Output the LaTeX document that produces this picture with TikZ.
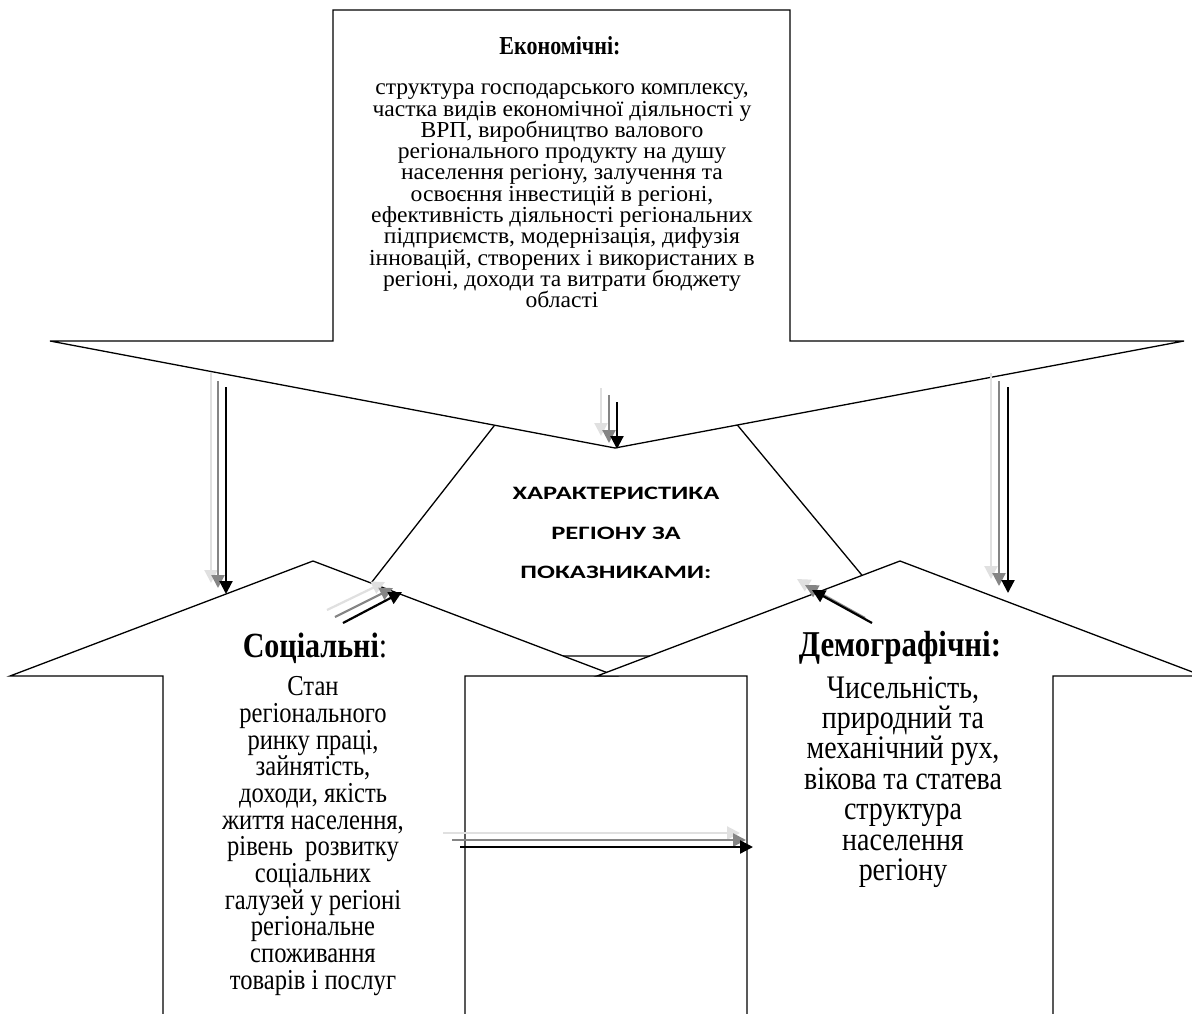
\documentclass[tikz,border=0pt]{standalone}
\usepackage{fontspec}
\setmainfont{Liberation Serif}
\newfontfamily\narrowserif[FakeStretch=0.85]{Liberation Serif}
\newfontfamily\widerserif[FakeStretch=1.03]{Liberation Serif}
\newfontfamily\calib[FakeStretch=1.4]{Carlito}
\usetikzlibrary{arrows.meta}
\newcommand\tightlines{\lineskiplimit=-100pt\lineskip=0pt\relax}
\tikzset{
  outline/.style={draw=black, fill=white, line width=1.3bp, line join=miter},
  arrL/.style={draw=black!12, line width=2.2bp, -{Triangle[length=13bp,width=13bp]}},
  arrM/.style={draw=black!48, line width=2.2bp, -{Triangle[length=13bp,width=13bp]}},
  arrK/.style={draw=black, line width=2.2bp, -{Triangle[length=13bp,width=13bp]}},
  txt/.style={align=center, inner sep=0pt}
}
\begin{document}
\begin{tikzpicture}[x=1bp,y=-1bp]
\clip (0,0) rectangle (1192,1014);
\fill[white] (0,0) rectangle (1192,1014);
% central shape (behind)
\draw[outline] (530,380) -- (700,380) -- (929,656) -- (314,656) -- cycle;
% top arrow
\draw[outline] (333,10) -- (790,10) -- (790,341) -- (1184,341) -- (615,448) -- (50,341) -- (333,341) -- cycle;
% social arrow
\draw[outline] (163,1030) -- (163,676) -- (10,676) -- (313,561) -- (616,676) -- (465,676) -- (465,1030);
% demographic arrow
\draw[outline] (747,1030) -- (747,676) -- (597,676) -- (900,561) -- (1203,676) -- (1053,676) -- (1053,1030);

% texts
\node[txt, font=\fontsize{26}{26}\selectfont\narrowserif\bfseries] (ekoTitle) at (560,46) {Економічні:};
\node[txt, font=\fontsize{23}{21.4}\selectfont\widerserif\tightlines] (ekoText) at (562,196) {структура господарського комплексу,\\
частка видів економічної діяльності у\\
ВРП, виробництво валового\\
регіонального продукту на душу\\
населення регіону, залучення та\\
освоєння інвестицій в регіоні,\\
ефективність діяльності регіональних\\
підприємств, модернізація, дифузія\\
інновацій, створених і використаних в\\
регіоні, доходи та витрати бюджету\\
області};
\node[txt, font=\fontsize{19}{39.5}\selectfont\calib\bfseries] (center) at (616,533) {ХАРАКТЕРИСТИКА\\РЕГІОНУ ЗА\\ПОКАЗНИКАМИ:};
\node[txt, font=\fontsize{35.5}{30}\selectfont\narrowserif] (socTitle) at (315,648) {\textbf{Соціальні}:};
\node[txt, font=\fontsize{29}{26.8}\selectfont\narrowserif\tightlines] (socText) at (313,836) {Стан\\
регіонального\\
ринку праці,\\
зайнятість,\\
доходи, якість\\
життя населення,\\
рівень\ \ розвитку\\
соціальних\\
галузей у регіоні\\
регіональне\\
споживання\\
товарів і послуг};
\node[txt, font=\fontsize{36.5}{30}\selectfont\narrowserif\bfseries] (demTitle) at (900,648) {Демографічні:};
\node[txt, font=\fontsize{33}{30.5}\selectfont\narrowserif\tightlines] (demText) at (903,782) {Чисельність,\\
природний та\\
механічний рух,\\
вікова та статева\\
структура\\
населення\\
регіону};

% arrow coordinates
\coordinate (lL1) at (211,373); \coordinate (lL2) at (211,583);
\coordinate (lM1) at (218,381); \coordinate (lM2) at (218,588);
\coordinate (lK1) at (226,387); \coordinate (lK2) at (226,594);
\coordinate (rL1) at (991,373); \coordinate (rL2) at (991,579);
\coordinate (rM1) at (999,381); \coordinate (rM2) at (999,586);
\coordinate (rK1) at (1008,387); \coordinate (rK2) at (1008,593);
\coordinate (cL1) at (601,388); \coordinate (cL2) at (601,436);
\coordinate (cM1) at (609,395); \coordinate (cM2) at (609,443);
\coordinate (cK1) at (617,402); \coordinate (cK2) at (617,449);
\coordinate (sL1) at (327,610); \coordinate (sL2) at (385,582);
\coordinate (sM1) at (335,617); \coordinate (sM2) at (393,588);
\coordinate (sK1) at (343,623); \coordinate (sK2) at (402,592);
\coordinate (dL1) at (857,614); \coordinate (dL2) at (797,579);
\coordinate (dM1) at (865,618); \coordinate (dM2) at (805,585);
\coordinate (dK1) at (872,623); \coordinate (dK2) at (812,590);
\coordinate (hL1) at (443,833); \coordinate (hL2) at (740,833);
\coordinate (hM1) at (452,840); \coordinate (hM2) at (746,840);
\coordinate (hK1) at (460,847); \coordinate (hK2) at (753,847);

\foreach \p in {l,r,c,s,d,h}{
  \draw[arrL] (\p L1) -- (\p L2);
  \draw[arrM] (\p M1) -- (\p M2);
  \draw[arrK] (\p K1) -- (\p K2);
}
\end{tikzpicture}
\end{document}
